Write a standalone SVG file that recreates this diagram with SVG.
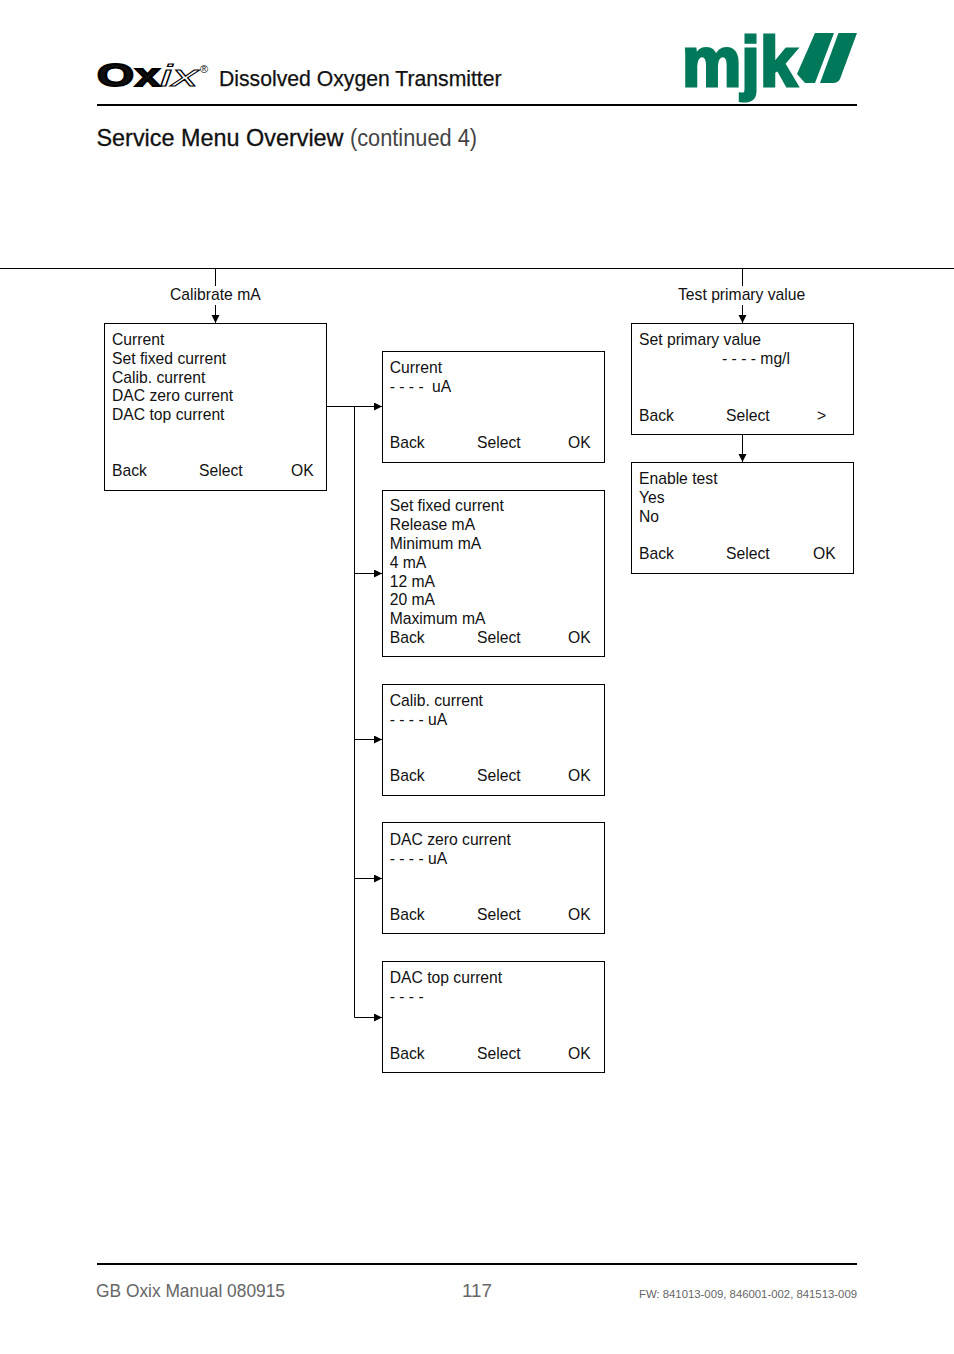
<svg xmlns="http://www.w3.org/2000/svg" width="954" height="1354" viewBox="0 0 954 1354">
<style>
text{font-family:"Liberation Sans",Arial,sans-serif;fill:#111}
.t{font-size:15.7px}
.box{fill:#fff;stroke:#000;stroke-width:1}
.c{fill:none;stroke:#000;stroke-width:1}
.g{fill:#666}
.lg{font-size:31px;font-weight:bold;stroke:#000;stroke-width:1.8}
.lo{font-size:30px;font-style:italic;fill:#fff;stroke:#000;stroke-width:.9}
.mj{font-size:70px;font-weight:bold;fill:#00785a;stroke:#00785a;stroke-width:3}
</style>
<defs><marker id="a" markerUnits="userSpaceOnUse" markerWidth="9" markerHeight="9" refX="8" refY="4" orient="auto"><path d="M0 0L8 4L0 8Z" fill="#000"/></marker></defs>
<rect width="954" height="1354" fill="#fff"/>
<g id="header">
<text class="lg" x="97" y="86" textLength="37" lengthAdjust="spacingAndGlyphs">O</text>
<text class="lg" x="135" y="86" textLength="25" lengthAdjust="spacingAndGlyphs">x</text>
<text class="lo" x="160" y="86" textLength="12" lengthAdjust="spacingAndGlyphs">i</text>
<text class="lo" x="172" y="86" textLength="26" lengthAdjust="spacingAndGlyphs">x</text>
<text x="200" y="73" style="font-size:11px">®</text>
<text x="219" y="86" style="font-size:21.200px" stroke="#111" stroke-width=".25">Dissolved Oxygen Transmitter</text>
<text class="mj" x="682" y="85.500" textLength="115" lengthAdjust="spacingAndGlyphs">mjk</text>
<path d="M815 33H834L815 83H805L797 74Z" fill="#00785a"/>
<path d="M838.500 33H857L840 79Q838 83 833 83H820Z" fill="#00785a"/>
<rect x="97" y="104" width="760" height="2" fill="#000"/>
<text x="96.500" y="146" style="font-size:23.400px" stroke="#111" stroke-width=".3">Service Menu Overview</text>
<text x="350" y="146" style="font-size:23px;fill:#444" textLength="127" lengthAdjust="spacingAndGlyphs">(continued 4)</text>
</g>
<g id="connectors">
<path class="c" d="M0 268.500H954"/>
<path class="c" d="M215.500 269V286"/>
<path class="c" d="M215.500 305V323" marker-end="url(#a)"/>
<path class="c" d="M742.500 269V286"/>
<path class="c" d="M742.500 305V323" marker-end="url(#a)"/>
<path class="c" d="M742.500 435V462" marker-end="url(#a)"/>
<path class="c" d="M327 406.500H382" marker-end="url(#a)"/>
<path class="c" d="M354.500 406.500V1017.500H382" marker-end="url(#a)"/>
<path class="c" d="M354.500 573.500H382" marker-end="url(#a)"/>
<path class="c" d="M354.500 739.500H382" marker-end="url(#a)"/>
<path class="c" d="M354.500 878.500H382" marker-end="url(#a)"/>
</g>
<text class="t" x="170" y="300">Calibrate mA</text>
<text class="t" x="678" y="300">Test primary value</text>
<g id="n1"><rect class="box" x="104.500" y="323.500" width="222" height="167"/>
<text class="t" x="112" y="345">Current</text><text class="t" x="112" y="364">Set fixed current</text><text class="t" x="112" y="383">Calib. current</text><text class="t" x="112" y="401">DAC zero current</text><text class="t" x="112" y="420">DAC top current</text>
<text class="t" x="112" y="476">Back</text><text class="t" x="199" y="476">Select</text><text class="t" x="291" y="476">OK</text></g>
<g id="n2"><rect class="box" x="382.500" y="351.500" width="222" height="111"/>
<text class="t" x="389.700" y="373">Current</text><text class="t" x="389.700" y="392">- - - -</text><text class="t" x="432" y="392">uA</text>
<text class="t" x="389.700" y="448">Back</text><text class="t" x="477" y="448">Select</text><text class="t" x="568" y="448">OK</text></g>
<g id="n3"><rect class="box" x="382.500" y="490.500" width="222" height="166"/>
<text class="t" x="389.700" y="511">Set fixed current</text><text class="t" x="389.700" y="530">Release mA</text><text class="t" x="389.700" y="549">Minimum mA</text><text class="t" x="389.700" y="568">4 mA</text><text class="t" x="389.700" y="587">12 mA</text><text class="t" x="389.700" y="605">20 mA</text><text class="t" x="389.700" y="624">Maximum mA</text>
<text class="t" x="389.700" y="643">Back</text><text class="t" x="477" y="643">Select</text><text class="t" x="568" y="643">OK</text></g>
<g id="n4"><rect class="box" x="382.500" y="684.500" width="222" height="111"/>
<text class="t" x="389.700" y="706">Calib. current</text><text class="t" x="389.700" y="725">- - - - uA</text>
<text class="t" x="389.700" y="781">Back</text><text class="t" x="477" y="781">Select</text><text class="t" x="568" y="781">OK</text></g>
<g id="n5"><rect class="box" x="382.500" y="822.500" width="222" height="111"/>
<text class="t" x="389.700" y="845">DAC zero current</text><text class="t" x="389.700" y="864">- - - - uA</text>
<text class="t" x="389.700" y="920">Back</text><text class="t" x="477" y="920">Select</text><text class="t" x="568" y="920">OK</text></g>
<g id="n6"><rect class="box" x="382.500" y="961.500" width="222" height="111"/>
<text class="t" x="389.700" y="983">DAC top current</text><text class="t" x="389.700" y="1002">- - - -</text>
<text class="t" x="389.700" y="1059">Back</text><text class="t" x="477" y="1059">Select</text><text class="t" x="568" y="1059">OK</text></g>
<g id="n7"><rect class="box" x="631.500" y="323.500" width="222" height="111"/>
<text class="t" x="639" y="345">Set primary value</text><text class="t" x="722" y="364">- - - - mg/l</text>
<text class="t" x="639" y="421">Back</text><text class="t" x="726" y="421">Select</text><text class="t" x="817" y="421">&gt;</text></g>
<g id="n8"><rect class="box" x="631.500" y="462.500" width="222" height="111"/>
<text class="t" x="639" y="484">Enable test</text><text class="t" x="639" y="503">Yes</text><text class="t" x="639" y="522">No</text>
<text class="t" x="639" y="559">Back</text><text class="t" x="726" y="559">Select</text><text class="t" x="813" y="559">OK</text></g>
<g id="footer">
<rect x="97" y="1263" width="760" height="2" fill="#000"/>
<text class="g" x="96" y="1297" style="font-size:18.400px" textLength="189" lengthAdjust="spacingAndGlyphs">GB Oxix Manual 080915</text>
<text class="g" x="462" y="1297" style="font-size:18.400px" textLength="30" lengthAdjust="spacingAndGlyphs">117</text>
<text class="g" x="857" y="1298" text-anchor="end" style="font-size:11.350px">FW: 841013-009, 846001-002, 841513-009</text>
</g>
</svg>
